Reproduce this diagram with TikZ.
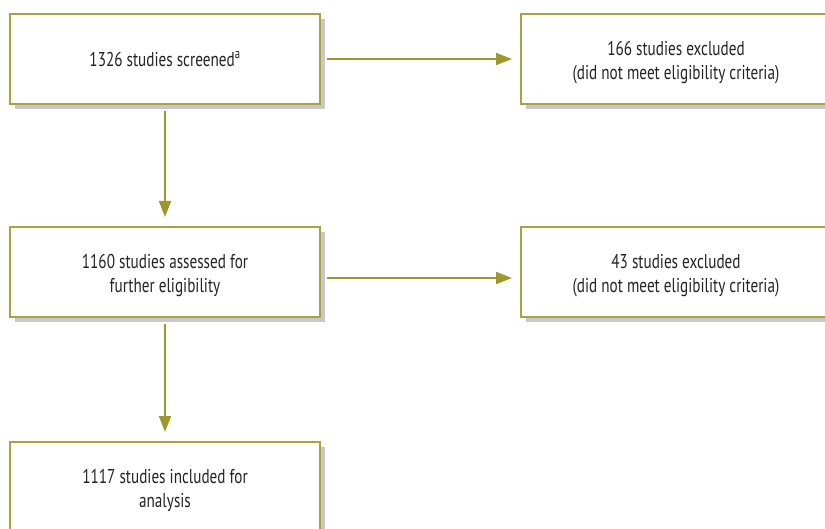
\documentclass[tikz,border=0pt]{standalone}
\usepackage{fontspec}
\setmainfont[FakeStretch=0.76]{PT Sans}
\usetikzlibrary{arrows.meta,shadows}
\definecolor{olivebox}{RGB}{168,163,64}
\definecolor{olivearrow}{RGB}{156,152,44}
\definecolor{shadowgray}{RGB}{200,200,200}
\definecolor{txt}{RGB}{35,35,35}
\newcommand\lowtext[1]{\raisebox{-4pt}[\height][\depth]{\begin{tabular}{@{}c@{}}#1\end{tabular}}}
\tikzset{
  flowbox/.style={draw=olivebox, line width=2pt, fill=white,
    minimum width=310pt, minimum height=90pt, inner sep=0pt,
    align=center, text=txt, font=\fontsize{20}{24}\selectfont,
    drop shadow={shadow xshift=5pt, shadow yshift=-5pt, fill=shadowgray, opacity=1}},
  flowarrow/.style={draw=olivearrow, line width=1.8pt,
    -{Triangle[length=16pt,width=12pt]}, shorten <=6pt}
}
\begin{document}
\begin{tikzpicture}[x=1pt,y=-1pt]
\useasboundingbox (0,0) rectangle (825,529);
\clip (0,0) rectangle (825,529);
\node[flowbox] (b1) at (165,59) {1326 studies screened\textsuperscript{a}};
\node[flowbox] (r1) at (676,59) {\lowtext{166 studies excluded\\(did not meet eligibility criteria)}};
\node[flowbox] (b2) at (165,272) {\lowtext{1160 studies assessed for\\further eligibility}};
\node[flowbox] (r2) at (676,272) {\lowtext{43 studies excluded\\(did not meet eligibility criteria)}};
\node[flowbox] (b3) at (165,487) {\lowtext{1117 studies included for\\analysis}};
\draw[flowarrow, shorten >=8pt] (b1.east) -- (r1.west);
\draw[flowarrow, shorten >=8pt] ([yshift=-6pt]b2.east) -- ([yshift=-6pt]r2.west);
\draw[flowarrow, shorten >=9pt] (b1.south) -- (b2.north);
\draw[flowarrow, shorten >=9pt] (b2.south) -- (b3.north);
\end{tikzpicture}
\end{document}
